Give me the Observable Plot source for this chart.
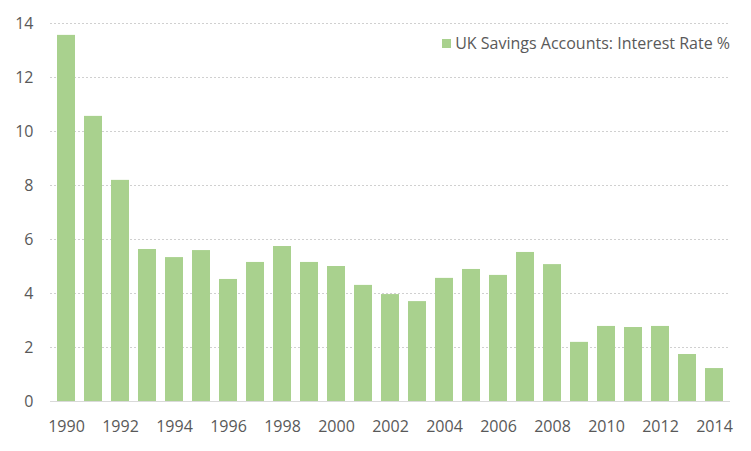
<!DOCTYPE html>
<html>
<head>
<meta charset="utf-8">
<script src="https://cdn.jsdelivr.net/npm/d3@7"></script>
<script src="https://cdn.jsdelivr.net/npm/@observablehq/plot@0.6"></script>
<style>
  html, body { margin: 0; padding: 0; background: #fff; }
  #wrap { position: relative; width: 751px; height: 451px; font-family: "Open Sans", sans-serif; }
  #legend { position: absolute; right: 21px; top: 32px; display: flex; align-items: center; color: #595959; font-size: 16px; }
  #legend .sw { width: 9px; height: 9px; margin-right: 4px; }
</style>
</head>
<body>
<div id="wrap"></div>
<script>
const years = [1990,1991,1992,1993,1994,1995,1996,1997,1998,1999,2000,2001,2002,2003,2004,2005,2006,2007,2008,2009,2010,2011,2012,2013,2014];
const rates = [13.56,10.56,8.19,5.63,5.33,5.59,4.52,5.15,5.74,5.15,5.0,4.30,3.96,3.70,4.56,4.89,4.67,5.52,5.07,2.19,2.78,2.74,2.78,1.74,1.22];
const yTicks = [0,2,4,6,8,10,12,14];
const seriesName = "UK Savings Accounts: Interest Rate %";
const barColor = "#a9d18e";
const textColor = "#595959";

const data = years.map((y, i) => ({year: y, rate: rates[i]}));

const chart = Plot.plot({
  width: 751,
  height: 451,
  marginLeft: 50,
  marginRight: 21,
  marginTop: 23,
  marginBottom: 50,
  style: {fontFamily: "Open Sans, sans-serif", fontSize: "16px", color: textColor, background: "#fff"},
  x: {type: "band", domain: years, paddingInner: 0.34, paddingOuter: 0.17, label: null},
  y: {domain: [0, 14], label: null},
  marks: [
    Plot.ruleY(yTicks.filter(d => d > 0), {stroke: "#d0d0d0", strokeWidth: 1, strokeDasharray: "2,2"}),
    Plot.barY(data, {x: "year", y: "rate", fill: barColor}),
    Plot.ruleY([0], {stroke: "#d9d9d9", strokeWidth: 1}),
    Plot.axisY({ticks: yTicks, tickSize: 0, tickPadding: 17, label: null, fill: textColor}),
    Plot.axisX({tickSize: 0, tickPadding: 19, label: null, fill: textColor,
      tickFormat: d => (d % 2 === 0 ? String(d) : "")})
  ]
});

const wrap = document.getElementById("wrap");
wrap.appendChild(chart);
const legend = document.createElement("div");
legend.id = "legend";
legend.innerHTML = `<div class="sw" style="background:${barColor}"></div><span>${seriesName}</span>`;
wrap.appendChild(legend);
</script>
</body>
</html>
